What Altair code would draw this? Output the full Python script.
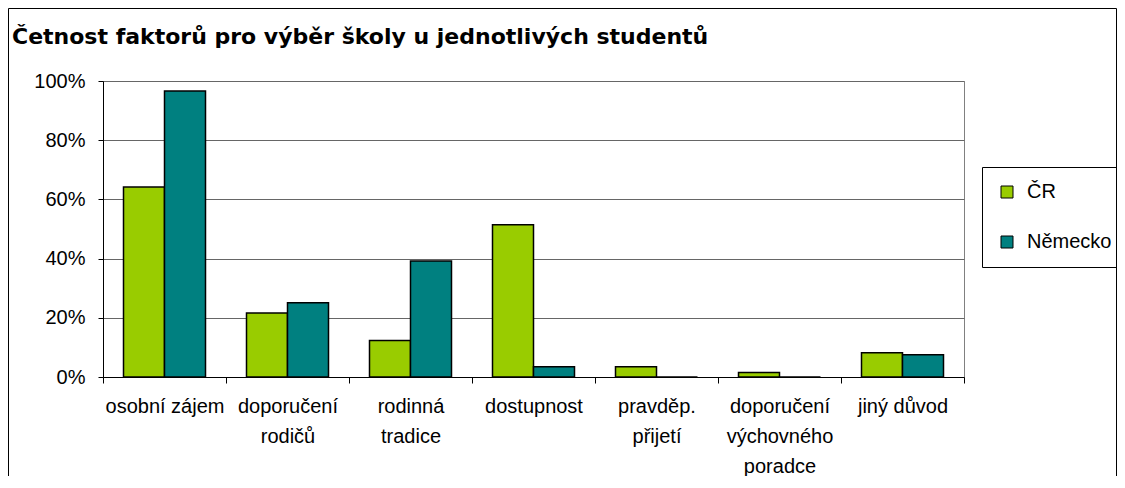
import altair as alt
import pandas as pd

categories = [
    "osobní zájem",
    "doporučení\nrodičů",
    "rodinná\ntradice",
    "dostupnost",
    "pravděp.\npřijetí",
    "doporučení\nvýchovného\nporadce",
    "jiný důvod",
]
series = ["ČR", "Německo"]
cr_values = [0.642, 0.216, 0.123, 0.514, 0.035, 0.015, 0.082]
de_values = [0.966, 0.251, 0.392, 0.035, 0.0, 0.0, 0.075]
colors = ["#99CC00", "#008080"]
y_ticks = [0, 0.2, 0.4, 0.6, 0.8, 1.0]
title_text = "Četnost faktorů pro výběr školy u jednotlivých studentů"

rows = []
for c, a, b in zip(categories, cr_values, de_values):
    rows.append({"kategorie": c, "stat": series[0], "podil": a})
    rows.append({"kategorie": c, "stat": series[1], "podil": b})
df = pd.DataFrame(rows)

FONT = "Liberation Sans"

bars = alt.Chart(df).mark_bar(stroke="black", strokeWidth=1.5).encode(
    x=alt.X(
        "kategorie:N",
        sort=categories,
        scale=alt.Scale(paddingInner=0, paddingOuter=0),
        axis=alt.Axis(
            title=None,
            labelAngle=0,
            labelExpr="isValid(datum.value) ? split(datum.value, '\\n') : ''",
            labelFont=FONT,
            labelFontSize=20,
            labelColor="black",
            labelLineHeight=30,
            labelPadding=13,
            labelLimit=0,
            tickBand="extent",
            tickSize=6,
            tickColor="black",
            domainColor="black",
            grid=False,
        ),
    ),
    xOffset=alt.XOffset(
        "stat:N", sort=series, scale=alt.Scale(paddingInner=0, paddingOuter=0.5)
    ),
    y=alt.Y(
        "podil:Q",
        scale=alt.Scale(domain=[0, 1], nice=False),
        axis=alt.Axis(
            title=None,
            values=y_ticks,
            format=".0%",
            labelFont=FONT,
            labelFontSize=20,
            labelColor="black",
            labelPadding=13,
            tickSize=5,
            tickColor="black",
            domainColor="black",
            gridColor="#666666",
            gridWidth=1,
        ),
    ),
    color=alt.Color(
        "stat:N",
        sort=series,
        scale=alt.Scale(domain=series, range=colors),
        legend=alt.Legend(
            title=None,
            orient="none",
            legendX=879,
            legendY=86,
            symbolType="square",
            symbolSize=144,
            symbolStrokeColor="black",
            symbolStrokeWidth=1,
            labelFont=FONT,
            labelFontSize=20,
            labelColor="black",
            labelOffset=10,
            padding=15,
            rowPadding=30,
            strokeColor="black",
        ),
    ),
)

frame = alt.Chart(pd.DataFrame({"a": [0]})).mark_rect(
    fillOpacity=0, stroke="black", strokeWidth=1
).encode(
    x=alt.value(-94.5), x2=alt.value(1013.5), y=alt.value(-72.5), y2=alt.value(500)
)

title = alt.Chart(pd.DataFrame({"t": [title_text]})).mark_text(
    align="left",
    baseline="alphabetic",
    font="DejaVu Sans",
    fontSize=22,
    fontWeight="bold",
    color="black",
).encode(text="t:N", x=alt.value(-91), y=alt.value(-37))

chart = alt.layer(bars, frame, title).properties(
    width=861,
    height=296,
    autosize=alt.AutoSizeParams(type="none"),
    padding={"left": 95, "top": 73, "right": 153, "bottom": 99},
).configure_view(stroke="#808080", strokeWidth=1)

chart.save("out.html", embed_options={"renderer": "svg", "actions": False})
